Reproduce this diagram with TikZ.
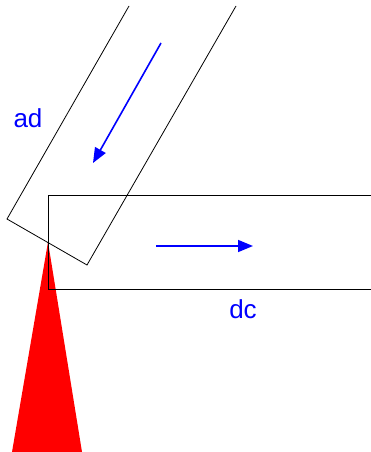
\documentclass[tikz,border=0pt]{standalone}
\usepackage{fontspec}
\setmainfont{Liberation Sans}
\usetikzlibrary{arrows.meta}

\begin{document}
\begin{tikzpicture}[x=1pt,y=-1pt,
  edge/.style={draw=black,line width=0.8pt},
  flow/.style={draw=blue,line width=1.6pt,-{Triangle[length=15pt,width=12pt]}},
  lbl/.style={text=blue,font=\fontsize{26}{30}\selectfont,inner sep=0pt}]
  \useasboundingbox (0,0) rectangle (371,452);
  % red wedge under the corner
  \coordinate (apex) at (48,242);
  \fill[red] (apex) -- (12,452) -- (82,452) -- cycle;
  % horizontal strip
  \coordinate (h1) at (371,195);
  \coordinate (h2) at (48,195);
  \coordinate (h3) at (48,289);
  \coordinate (h4) at (371,289);
  \draw[edge] (h1) -- (h2) -- (h3) -- (h4);
  % tilted strip
  \coordinate (t1) at (129,6);
  \coordinate (t2) at (7,219);
  \coordinate (t3) at (87,265);
  \coordinate (t4) at (236,6);
  \draw[edge] (t1) -- (t2) -- (t3) -- (t4);
  % flow directions
  \coordinate (a1) at (161,43);
  \coordinate (a2) at (93,163);
  \draw[flow] (a1) -- (a2);
  \coordinate (b1) at (156,246);
  \coordinate (b2) at (253,246);
  \draw[flow] (b1) -- (b2);
  % labels
  \node[lbl] (ad) at (28,118) {ad};
  \node[lbl] (dc) at (243,309) {dc};
\end{tikzpicture}
\end{document}
